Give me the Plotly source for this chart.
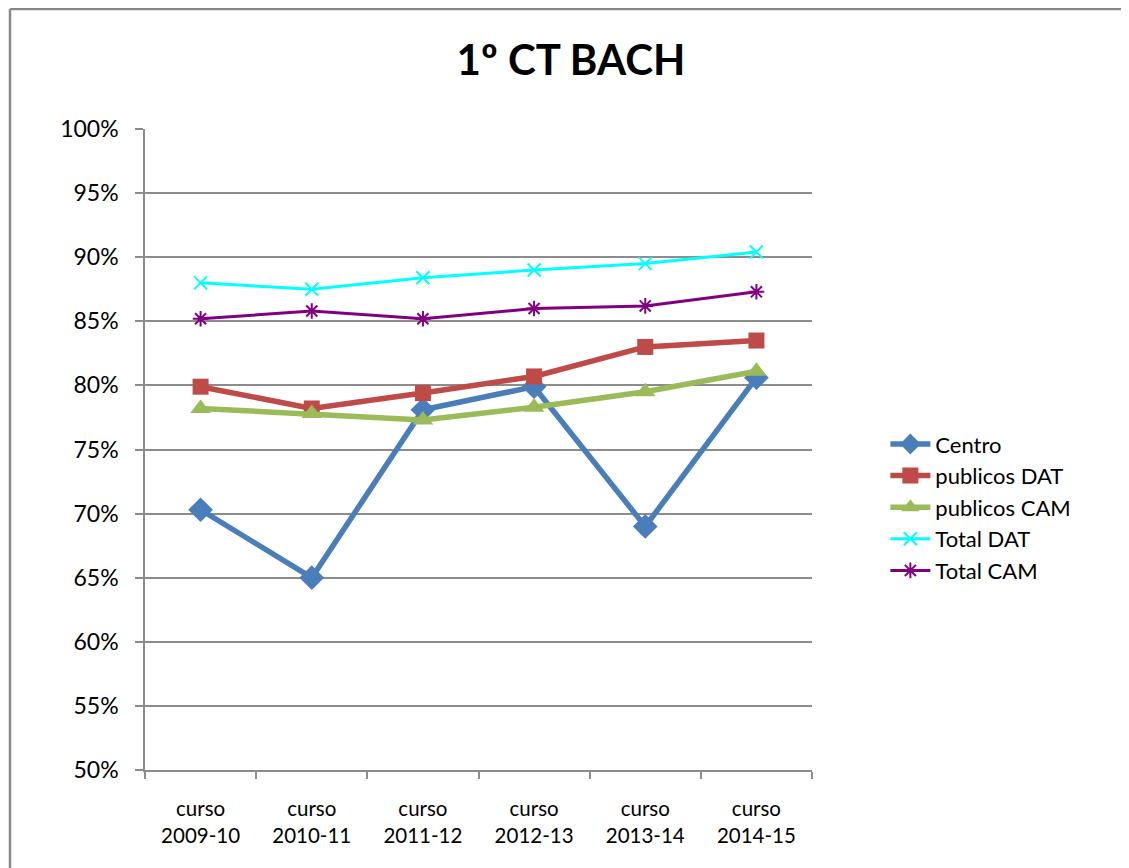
import plotly.graph_objects as go

categories = ["curso<br>2009-10", "curso<br>2010-11", "curso<br>2011-12",
              "curso<br>2012-13", "curso<br>2013-14", "curso<br>2014-15"]
centro = [0.703, 0.650, 0.781, 0.799, 0.690, 0.806]
publicos_dat = [0.799, 0.782, 0.794, 0.807, 0.830, 0.835]
publicos_cam = [0.782, 0.778, 0.773, 0.783, 0.795, 0.811]
total_dat = [0.880, 0.875, 0.884, 0.890, 0.895, 0.904]
total_cam = [0.852, 0.858, 0.852, 0.860, 0.862, 0.873]
y_ticks = [0.50, 0.55, 0.60, 0.65, 0.70, 0.75, 0.80, 0.85, 0.90, 0.95, 1.00]

FONT = "Lato, 'Open Sans', sans-serif"

# the page body adds an 8 px offset; geometry below is in figure coordinates
L, T, R, B = 137, 121, 325, 106
PW, PH = 1129 - L - R, 868 - T - B

fig = go.Figure()
fig.add_trace(go.Scatter(x=categories, y=centro, name="Centro", mode="lines+markers",
                         line=dict(color="#4A7EBB", width=5.5),
                         marker=dict(symbol="diamond", size=19, color="#4A7EBB")))
fig.add_trace(go.Scatter(x=categories, y=publicos_dat, name="publicos DAT", mode="lines+markers",
                         line=dict(color="#BE4B48", width=5.5),
                         marker=dict(symbol="square", size=16, color="#BE4B48")))
fig.add_trace(go.Scatter(x=categories, y=publicos_cam, name="publicos CAM", mode="lines+markers",
                         line=dict(color="#9BBB59", width=5.5),
                         marker=dict(symbol="triangle-up", size=18, color="#9BBB59")))
fig.add_trace(go.Scatter(x=categories, y=total_dat, name="Total DAT", mode="lines+markers",
                         line=dict(color="#00FFFF", width=3),
                         marker=dict(symbol="x-thin-open", size=13, color="#00FFFF",
                                     line=dict(color="#00FFFF", width=2))))
fig.add_trace(go.Scatter(x=categories, y=total_cam, name="Total CAM", mode="lines+markers",
                         line=dict(color="#800080", width=3),
                         marker=dict(symbol="asterisk-open", size=13, color="#800080",
                                     line=dict(color="#800080", width=2))))

fig.update_layout(
    width=1129, height=868,
    margin=dict(l=L, r=R, t=T, b=B),
    paper_bgcolor="white", plot_bgcolor="white",
    font=dict(family=FONT, size=21, color="black"),
    title=dict(text="<b>1º CT BACH</b>", x=(563 / 1129), xanchor="center",
               y=1 - 52 / 868, yanchor="middle",
               font=dict(family=FONT, size=42, color="black")),
    showlegend=True,
    legend=dict(x=1.11, xanchor="left", y=0.41, yanchor="middle",
                font=dict(family=FONT, size=22, color="black"),
                bgcolor="rgba(0,0,0,0)", tracegroupgap=0, itemwidth=40),
    xaxis=dict(type="category", range=[-0.5, len(categories) - 0.5], autorange=False,
               showgrid=False, showline=True, linecolor="#8c8c8c",
               linewidth=1.5, ticks="outside", tickson="boundaries", ticklen=7,
               tickcolor="#8c8c8c", tickwidth=1.5, tickfont=dict(family=FONT, size=20.5),
               ticklabelstandoff=20),
    yaxis=dict(range=[0.5, 1.0], tickvals=y_ticks, tickformat=".0%", showgrid=True,
               gridcolor="#8c8c8c", gridwidth=1.5, showline=True, linecolor="#8c8c8c",
               linewidth=1.5, ticks="outside", ticklen=8, tickcolor="#8c8c8c",
               tickwidth=1.5, tickfont=dict(family=FONT, size=23), zeroline=False,
               ticklabelstandoff=12),
)

# outer chart border (left and top edges visible in the reference)
ytop = (T + PH - 1) / PH
xleft = (2 - L) / PW
fig.add_shape(type="line", xref="paper", yref="paper",
              x0=xleft, x1=(1140 - L) / PW, y0=ytop, y1=ytop,
              line=dict(color="#888888", width=2.5))
fig.add_shape(type="line", xref="paper", yref="paper",
              x0=xleft, x1=xleft, y0=ytop, y1=-(B + 20) / PH,
              line=dict(color="#888888", width=2.5))

fig.write_html("out.html")
